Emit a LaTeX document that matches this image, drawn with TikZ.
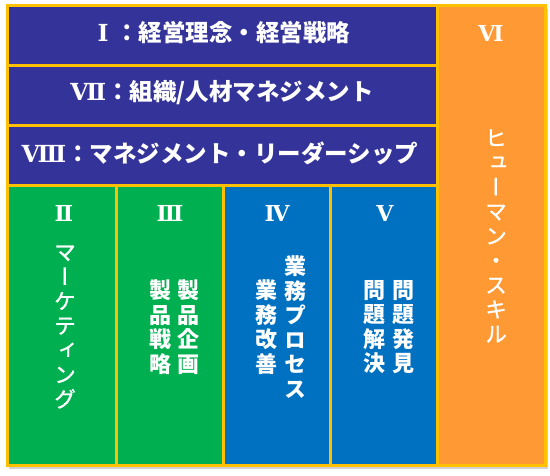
\documentclass[tikz,border=0pt]{standalone}
\usepackage{fontspec}
\newfontfamily\jpfont{Noto Sans CJK JP}
\newfontfamily\jpvert{Noto Sans CJK JP}[RawFeature=+vert]
\newfontfamily\jpvertmid{Noto Sans CJK JP}[RawFeature=+vert,FakeBold=1.2]
\newfontfamily\numfont{DejaVu Serif}
\definecolor{frame}{HTML}{FFC000}
\definecolor{navy}{HTML}{333399}
\definecolor{leafgreen}{HTML}{00B050}
\definecolor{seablue}{HTML}{0070C0}
\definecolor{skillorange}{HTML}{FF9933}
\begin{document}
\begin{tikzpicture}[x=1pt,y=-1pt,
  box/.style={draw=frame,line width=3pt},
  title/.style={text=white,inner sep=0pt,font=\jpfont\bfseries\fontsize{23.5}{26}\selectfont},
  numeral/.style={text=white,inner sep=0pt,font=\numfont\bfseries\fontsize{22}{24}\selectfont},
  tate/.style={text=white,align=center,inner sep=0pt,font=\jpvertmid\fontsize{22}{24.5}\selectfont},
  tatebold/.style={tate,font=\jpvert\bfseries\fontsize{22}{24.5}\selectfont}]
\useasboundingbox (0,0) rectangle (550,476);
% shadow
\fill [black!18] (9,9) rectangle (548,469);
% top rows
\draw [box,fill=navy] (7,6) rectangle (437,66);
\draw [box,fill=navy] (7,66) rectangle (437,126);
\draw [box,fill=navy] (7,126) rectangle (437,186);
% columns
\draw [box,fill=leafgreen] (7,186) rectangle (116,466);
\draw [box,fill=leafgreen] (116,186) rectangle (223,466);
\draw [box,fill=seablue] (223,186) rectangle (330,466);
\draw [box,fill=seablue] (330,186) rectangle (437,466);
\draw [box,fill=skillorange] (437,6) rectangle (545,466);
% titles
\node [title] (philosophy) at (224,33) {{\numfont Ⅰ}\;：経営理念・経営戦略};
\node [title] (organization) at (222,93) {{\numfont Ⅶ}：組織/人材マネジメント};
\node [title] (leadership) at (220,153) {{\numfont Ⅷ}：マネジメント・リーダーシップ};
% numerals
\node [numeral] (num2) at (64,213) {Ⅱ};
\node [numeral] (num3) at (170,213) {Ⅲ};
\node [numeral] (num4) at (277,213) {Ⅳ};
\node [numeral] (num5) at (385,213) {Ⅴ};
\node [numeral] (num6) at (491,33) {Ⅵ};
% vertical texts
\node [tate] (marketing) at (65,327) {マ\\ー\\ケ\\テ\\ィ\\ン\\グ};
\node [tatebold] (planning) at (188,327) {製\\品\\企\\画};
\node [tatebold] (strategy) at (160,327) {製\\品\\戦\\略};
\node [tatebold] (process) at (295,327) {業\\務\\プ\\ロ\\セ\\ス};
\node [tatebold] (kaizen) at (266,327) {業\\務\\改\\善};
\node [tatebold] (finding) at (403,327) {問\\題\\発\\見};
\node [tatebold] (solving) at (374,327) {問\\題\\解\\決};
\node [tate] (human) at (496,236) {ヒ\\ュ\\ー\\マ\\ン\\・\\ス\\キ\\ル};
\end{tikzpicture}
\end{document}
